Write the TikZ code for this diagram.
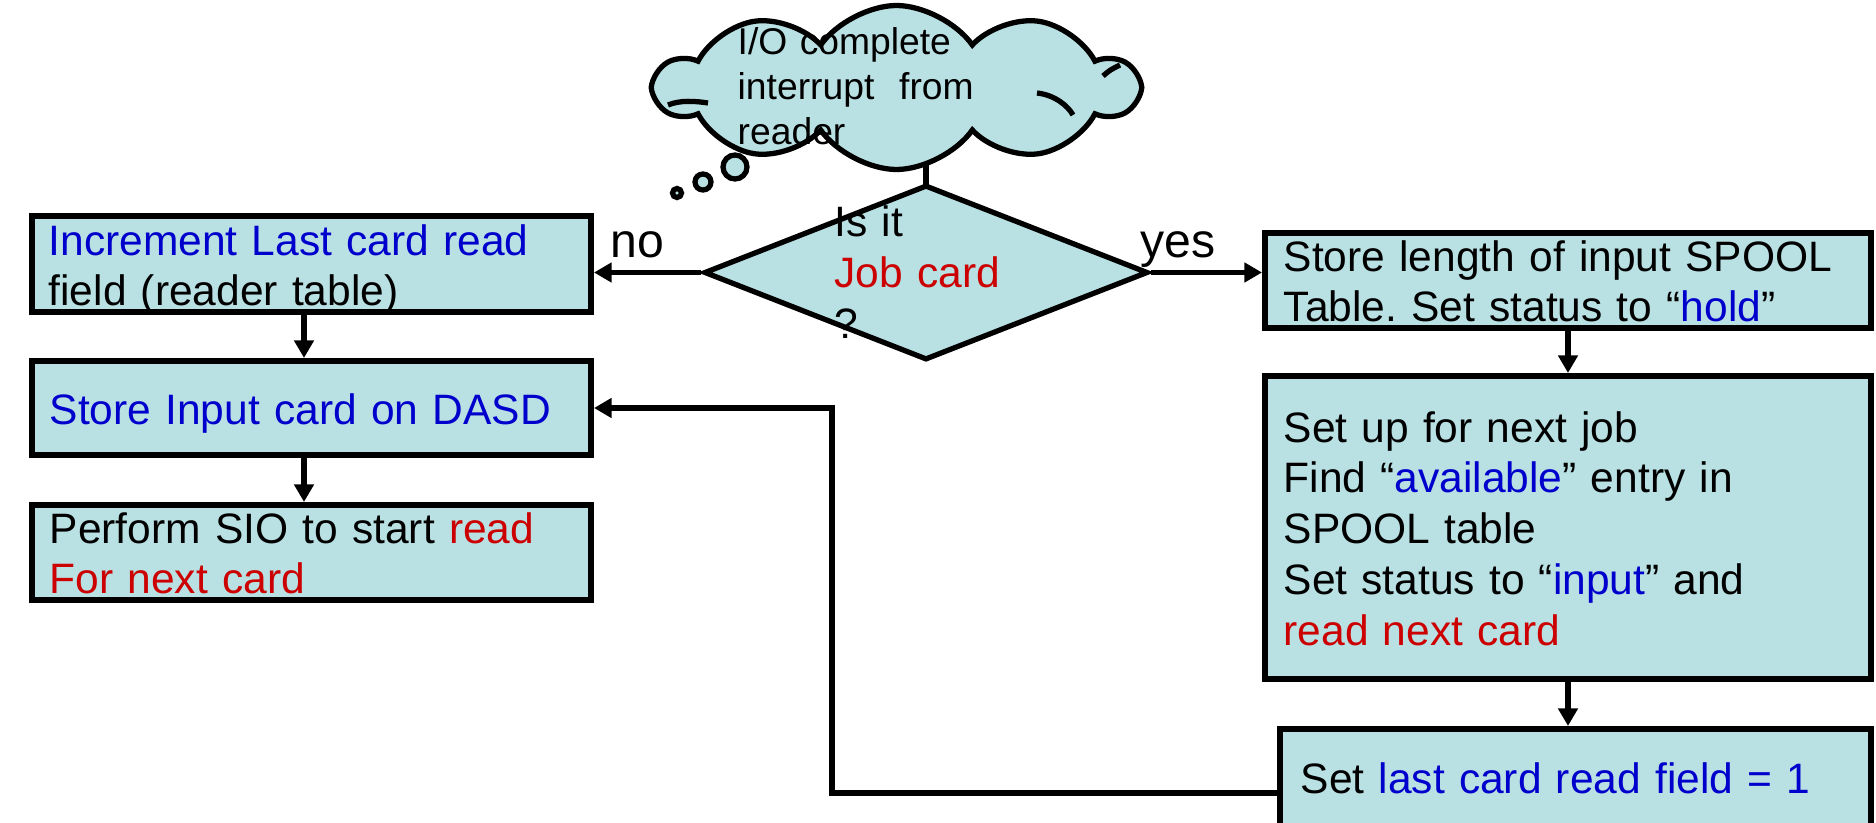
\documentclass[tikz,border=0pt]{standalone}
\usepackage{fontspec}
\setmainfont{Liberation Sans}
\usetikzlibrary{shapes.geometric,shapes.symbols,arrows.meta}
\definecolor{boxfill}{RGB}{185,224,227}
\definecolor{txtblue}{RGB}{0,0,204}
\definecolor{txtred}{RGB}{204,0,0}
\frenchspacing

\begin{document}
\begin{tikzpicture}[
  proc/.style={draw, line width=1.7pt, fill=boxfill, inner sep=0pt},
  txt/.style={anchor=base west, inner sep=0pt, align=left, text width=6cm,
    font=\fontsize{12.1pt}{14.5pt}\selectfont},
  small/.style={txt, font=\fontsize{10.6pt}{12.7pt}\selectfont},
  lbl/.style={anchor=base west, inner sep=0pt, font=\fontsize{13.7pt}{16pt}\selectfont},
  flow/.style={line width=1.6pt, -{Triangle[length=5pt,width=5.4pt]}}]
\useasboundingbox (0,0) rectangle (18.76,8.22);

% interrupt cloud and decision
\draw[line width=1.6pt] (9.26,6.37) coordinate (tail) -- ++(0,0.2);
\node[cloud, draw, line width=1.5pt, fill=boxfill, cloud puffs=10, cloud puff arc=110,
  aspect=2.9, minimum width=4.81cm, minimum height=1.64cm, inner sep=0pt] (intr) at (8.965,7.345) {};
\draw[line width=1.5pt] (6.68,7.17) .. controls (6.80,7.22) and (6.95,7.21) .. (7.08,7.19);
\draw[line width=1.5pt] (10.37,7.29) .. controls (10.55,7.27) and (10.68,7.16) .. (10.73,7.07);
\draw[line width=1.5pt] (11.03,7.46) .. controls (11.10,7.52) .. (11.20,7.57);
\draw[line width=1.5pt, fill=boxfill] (7.35,6.55) circle (0.12);
\draw[line width=1.5pt, fill=boxfill] (7.03,6.40) circle (0.08);
\draw[line width=1.5pt, fill=boxfill] (6.77,6.29) circle (0.045);
\node[small] (intr-t) at (7.37,7.67) {I/O complete\\interrupt\ \ from\\reader};

\node[diamond, draw, line width=1.5pt, fill=boxfill, minimum width=4.44cm,
  minimum height=1.75cm, inner sep=0pt] (dec) at (9.26,5.495) {};
\node[txt, font=\fontsize{12.1pt}{14.4pt}\selectfont] (dec-t) at (8.34,5.85)
  {Is it\\\textcolor{txtred}{Job card}\\?};

% no branch
\node[proc, minimum width=5.59cm, minimum height=0.96cm] (incr) at (3.115,5.58) {};
\node[txt] (incr-t) at (0.48,5.67)
  {\textcolor{txtblue}{Increment Last card read}\\field (reader table)};
\node[proc, minimum width=5.59cm, minimum height=0.94cm] (input) at (3.115,4.14) {};
\node[txt] (input-t) at (0.49,3.98) {\textcolor{txtblue}{Store Input card on DASD}};
\node[proc, minimum width=5.59cm, minimum height=0.95cm] (sio) at (3.115,2.695) {};
\node[txt] (sio-t) at (0.49,2.79)
  {Perform SIO to start \textcolor{txtred}{read}\\\textcolor{txtred}{For next card}};

% yes branch
\node[proc, minimum width=6.06cm, minimum height=0.95cm] (store) at (15.68,5.415) {};
\node[txt] (store-t) at (12.83,5.51)
  {Store length of input SPOOL\\Table. Set status to “\textcolor{txtblue}{hold}”};
\node[proc, minimum width=6.06cm, minimum height=3.03cm] (setup) at (15.68,2.945) {};
\node[txt] (setup-t) at (12.83,3.80)
  {Set up for next job\\Find “\textcolor{txtblue}{available}” entry in\\SPOOL table\\
   Set status to “\textcolor{txtblue}{input}” and\\\textcolor{txtred}{read next card}};
\node[proc, minimum width=5.91cm, minimum height=1.0cm] (last) at (15.755,0.43) {};
\node[txt] (last-t) at (13.00,0.29)
  {Set \textcolor{txtblue}{last card read field = 1}};

\node[lbl] (no) at (6.10,5.65) {no};
\node[lbl] (yes) at (11.40,5.65) {yes};

% connectors
\coordinate (lcol) at (3.04,0);
\draw[flow] (dec.west) -- (dec.west -| incr.east);
\draw[flow] (dec.east) -- (dec.east -| store.west);
\draw[flow] (lcol |- incr.south) -- (lcol |- input.north);
\draw[flow] (lcol |- input.south) -- (lcol |- sio.north);
\draw[flow] (store.south) -- (setup.north);
\draw[flow] (setup.south) -- (setup.south |- last.north);
\draw[flow] ([yshift=-0.14cm]last.west) -- (8.32,0.29) |- (input.east);
\end{tikzpicture}
\end{document}
